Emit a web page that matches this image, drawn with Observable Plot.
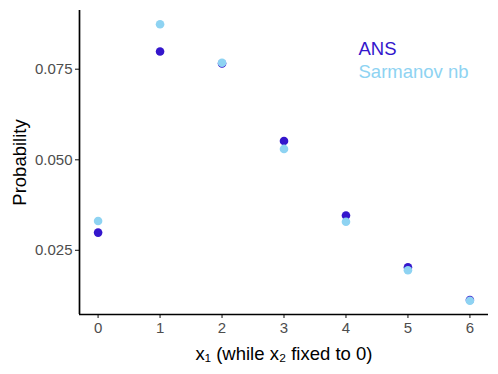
<!DOCTYPE html>
<html>
<head>
<meta charset="utf-8">
<script src="https://cdn.jsdelivr.net/npm/d3@7"></script>
<script src="https://cdn.jsdelivr.net/npm/@observablehq/plot@0.6"></script>
<style>
  body { margin: 0; background: #fff; }
  #chart svg { display: block; }
</style>
</head>
<body>
<div id="chart"></div>
<script>
const x1Values = [0, 1, 2, 3, 4, 5, 6];
const ansValues = [0.0299, 0.0799, 0.0766, 0.0552, 0.0346, 0.0203, 0.0113];
const sarmanovValues = [0.0331, 0.0874, 0.0768, 0.0530, 0.0329, 0.0195, 0.0111];
const seriesNames = ["ANS", "Sarmanov nb"];
const seriesColors = ["#3416CC", "#8ED3F2"];
const yTicks = [0.025, 0.050, 0.075];
const xTicks = [0, 1, 2, 3, 4, 5, 6];

const data = [];
x1Values.forEach((x, i) => data.push({x, y: ansValues[i], s: seriesNames[0]}));
x1Values.forEach((x, i) => data.push({x, y: sarmanovValues[i], s: seriesNames[1]}));

function expand(vals) {
  const lo = d3.min(vals), hi = d3.max(vals), r = hi - lo;
  return [lo - 0.05 * r, hi + 0.05 * r];
}
const xDomain = expand(x1Values);
const yDomain = expand(ansValues.concat(sarmanovValues));

const font = "'Liberation Sans', Arial, Helvetica, sans-serif";

const chart = Plot.plot({
  width: 498,
  height: 374,
  marginLeft: 79,
  marginRight: 10,
  marginTop: 10,
  marginBottom: 60,
  style: {fontFamily: font, background: "#fff"},
  x: {domain: xDomain},
  y: {domain: yDomain},
  color: {domain: seriesNames, range: seriesColors},
  marks: [
    Plot.axisX({ticks: xTicks, tickFormat: d => String(d), tickSize: 4, tickPadding: 4,
      fontSize: 15, fill: "#4D4D4D", stroke: "#333333", strokeWidth: 1.2,
      label: "x\u2081 (while x\u2082 fixed to 0)", labelAnchor: "center", labelArrow: "none", labelOffset: 45}),
    Plot.axisY({ticks: yTicks, tickFormat: d => d3.format(".3f")(d), tickSize: 4, tickPadding: 3,
      fontSize: 15, fill: "#4D4D4D", stroke: "#333333", strokeWidth: 1.2,
      label: "Probability", labelAnchor: "center", labelArrow: "none", labelOffset: 67}),
    Plot.ruleX([xDomain[0]], {stroke: "#000", strokeWidth: 1.7}),
    Plot.ruleY([yDomain[0]], {stroke: "#000", strokeWidth: 1.7}),
    Plot.dot(data, {x: "x", y: "y", fill: "s", r: 4.3}),
    Plot.text([seriesNames[0]], {frameAnchor: "top-left", dx: 279, dy: 31, textAnchor: "start",
      lineAnchor: "top", fontSize: 18.5, fill: seriesColors[0]}),
    Plot.text([seriesNames[1]], {frameAnchor: "top-left", dx: 279, dy: 54, textAnchor: "start",
      lineAnchor: "top", fontSize: 18.5, fill: seriesColors[1]})
  ]
});
chart.querySelectorAll("[aria-label$='axis label'] text, [aria-label='x-axis label'], [aria-label='y-axis label']").forEach(el => {
  el.setAttribute("font-size", "18.5");
  el.setAttribute("fill", "#000");
});
document.getElementById("chart").appendChild(chart);
</script>
</body>
</html>
